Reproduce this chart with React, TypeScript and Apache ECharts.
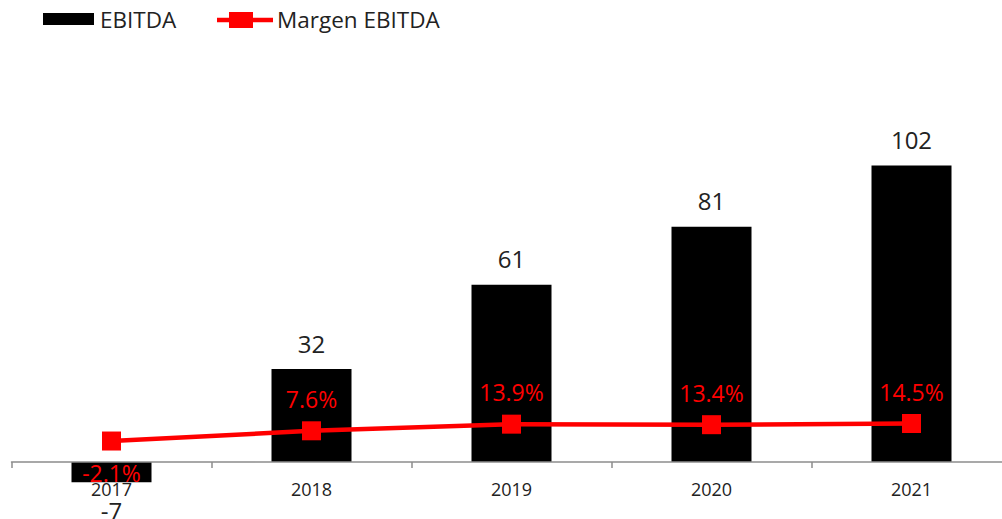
import React, { useEffect, useRef } from "react";
import * as echarts from "echarts";

const years = ["2017", "2018", "2019", "2020", "2021"];
const ebitda = [-7, 32, 61, 81, 102];
const margen = [-2.1, 7.6, 13.9, 13.4, 14.5];

const FONT = "'Open Sans', 'Noto Sans', sans-serif";
const TXT = "#222222";

export default function App() {
  const ref = useRef<HTMLDivElement>(null);
  useEffect(() => {
    document.body.style.margin = "0";
    const chart = echarts.init(ref.current!, null, { renderer: "svg" });
    chart.setOption({
      animation: false,
      textStyle: { fontFamily: FONT },
      grid: {
        left: 11.5,
        top: 113.3,
        width: 1000,
        height: 348.7,
        containLabel: false,
        outerBoundsMode: "none",
      },
      xAxis: {
        type: "category",
        data: years,
        axisLine: { onZero: false, lineStyle: { color: "#8c8c8c", width: 1.5 } },
        axisTick: { show: true, length: 6, lineStyle: { color: "#8c8c8c", width: 1.5 } },
        axisLabel: { color: TXT, fontSize: 18, margin: 18, fontFamily: FONT },
        z: 6,
      },
      yAxis: [
        { type: "value", min: 0, max: 120, show: false, splitLine: { show: false } },
        { type: "value", min: -22, max: 308.8, show: false, splitLine: { show: false } },
      ],
      graphic: [
        { type: "rect", shape: { x: 43, y: 13, width: 51, height: 12 }, style: { fill: "#000" } },
        {
          type: "text",
          x: 100,
          y: 19,
          style: { text: "EBITDA", fill: TXT, font: `22.5px ${FONT}`, textVerticalAlign: "middle", verticalAlign: "middle" },
        },
        { type: "line", shape: { x1: 217, y1: 20, x2: 273, y2: 20 }, style: { stroke: "#ff0000", lineWidth: 4.5 } },
        { type: "rect", shape: { x: 229, y: 12, width: 24, height: 16 }, style: { fill: "#ff0000" } },
        {
          type: "text",
          x: 277,
          y: 19,
          style: { text: "Margen EBITDA", fill: TXT, font: `22.5px ${FONT}`, textVerticalAlign: "middle", verticalAlign: "middle" },
        },
      ],
      series: [
        {
          name: "EBITDA",
          type: "bar",
          yAxisIndex: 0,
          barWidth: 80,
          clip: false,
          itemStyle: { color: "#000000" },
          data: ebitda.map((v) => ({
            value: v,
            label:
              v < 0
                ? { position: "bottom", distance: 18, lineHeight: 20 }
                : { position: "top", distance: 14 },
          })),
          label: { show: true, color: TXT, fontSize: 24, fontFamily: FONT },
          z: 2,
        },
        {
          name: "Margen EBITDA",
          type: "line",
          yAxisIndex: 1,
          symbol: "rect",
          symbolSize: 19,
          clip: false,
          lineStyle: { color: "#ff0000", width: 4.5 },
          itemStyle: { color: "#ff0000" },
          data: margen.map((v) => ({
            value: v,
            label: { position: v < 0 ? "bottom" : "top" },
          })),
          label: {
            show: true,
            color: "#ff0000",
            fontSize: 23,
            distance: 11,
            fontFamily: FONT,
            formatter: (p: any) => `${Number(p.value).toFixed(1)}%`,
          },
          z: 5,
        },
      ],
    });
    return () => chart.dispose();
  }, []);
  return <div ref={ref} style={{ width: 1002, height: 519 }} />;
}
